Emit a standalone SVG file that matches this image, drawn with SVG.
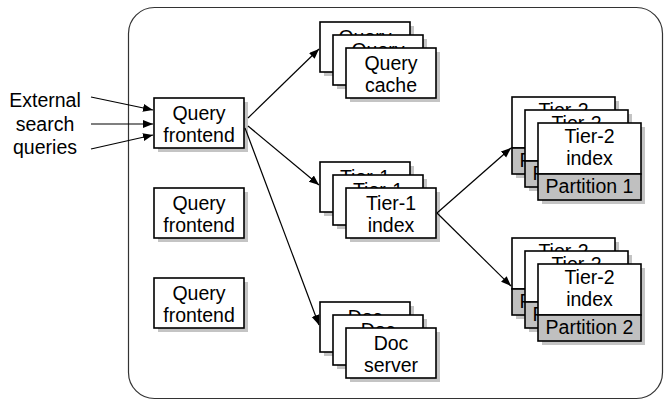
<svg xmlns="http://www.w3.org/2000/svg" width="664" height="401" viewBox="0 0 664 401">
<defs>
<style>
text{font-family:"Liberation Sans",Arial,sans-serif;font-size:19.5px;fill:#000;text-anchor:middle}
.box{fill:#fff;stroke:#000;stroke-width:1.6}
.part{fill:#c0c0c0;stroke:#000;stroke-width:1.6}
.sh{fill:#c4c4c4}
.edge{stroke:#000;stroke-width:1.2;fill:none;marker-end:url(#ah)}
</style>
<marker id="ah" markerUnits="userSpaceOnUse" markerWidth="11" markerHeight="9" refX="10" refY="4" orient="auto">
<path d="M0,0 L10,4 L0,8 z" fill="#000"/>
</marker>
</defs>
<rect x="128.5" y="7.5" width="534" height="391" rx="26" fill="#fff" stroke="#333" stroke-width="1.2"/>
<g id="external">
<text x="45" y="107">External</text>
<text x="45" y="130.5">search</text>
<text x="45" y="154">queries</text>
</g>
<g id="frontend1">
<rect class="sh" x="158" y="102" width="90" height="50"/>
<rect class="box" x="154" y="98" width="90" height="50"/>
<text x="199" y="119.5">Query</text><text x="199" y="142">frontend</text>
</g>
<g id="frontend2">
<rect class="sh" x="158" y="192" width="90" height="50"/>
<rect class="box" x="154" y="188" width="90" height="50"/>
<text x="199" y="209.5">Query</text><text x="199" y="232">frontend</text>
</g>
<g id="frontend3">
<rect class="sh" x="158" y="282" width="90" height="50"/>
<rect class="box" x="154" y="278" width="90" height="50"/>
<text x="199" y="299.5">Query</text><text x="199" y="322">frontend</text>
</g>
<g id="querycache">
<rect class="sh" x="324" y="26" width="90" height="50"/>
<rect class="box" x="320" y="22" width="90" height="50"/>
<text x="365" y="43.5">Query</text>
<rect class="sh" x="337" y="39" width="90" height="50"/>
<rect class="box" x="333" y="35" width="90" height="50"/>
<text x="378" y="56.5">Query</text>
<rect class="sh" x="350" y="52" width="90" height="50"/>
<rect class="box" x="346" y="48" width="90" height="50"/>
<text x="391" y="69.5">Query</text><text x="391" y="92">cache</text>
</g>
<g id="tier1">
<rect class="sh" x="324" y="166" width="90" height="50"/>
<rect class="box" x="320" y="162" width="90" height="50"/>
<text x="365" y="183.5">Tier-1</text>
<rect class="sh" x="337" y="179" width="90" height="50"/>
<rect class="box" x="333" y="175" width="90" height="50"/>
<text x="378" y="196.5">Tier-1</text>
<rect class="sh" x="350" y="192" width="90" height="50"/>
<rect class="box" x="346" y="188" width="90" height="50"/>
<text x="391" y="209.5">Tier-1</text><text x="391" y="232">index</text>
</g>
<g id="docserver">
<rect class="sh" x="324" y="306" width="90" height="50"/>
<rect class="box" x="320" y="302" width="90" height="50"/>
<text x="365" y="323.5">Doc</text>
<rect class="sh" x="337" y="319" width="90" height="50"/>
<rect class="box" x="333" y="315" width="90" height="50"/>
<text x="378" y="336.5">Doc</text>
<rect class="sh" x="350" y="332" width="90" height="50"/>
<rect class="box" x="346" y="328" width="90" height="50"/>
<text x="391" y="349.5">Doc</text><text x="391" y="372">server</text>
</g>
<g id="partition1">
<rect class="sh" x="516" y="101" width="103" height="77"/>
<rect class="box" x="512" y="97" width="103" height="51"/>
<rect class="part" x="512" y="148" width="103" height="26"/>
<text x="563.5" y="117">Tier-2</text><text x="563.5" y="167">Partition 1</text>
<rect class="sh" x="529" y="114" width="103" height="77"/>
<rect class="box" x="525" y="110" width="103" height="51"/>
<rect class="part" x="525" y="161" width="103" height="26"/>
<text x="576.5" y="130">Tier-2</text><text x="576.5" y="180">Partition 1</text>
<rect class="sh" x="542" y="127" width="103" height="77"/>
<rect class="box" x="538" y="123" width="103" height="51"/>
<rect class="part" x="538" y="174" width="103" height="26"/>
<text x="589.5" y="143">Tier-2</text><text x="589.5" y="165">index</text><text x="589.5" y="193">Partition 1</text>
</g>
<g id="partition2">
<rect class="sh" x="516" y="242" width="103" height="77"/>
<rect class="box" x="512" y="238" width="103" height="51"/>
<rect class="part" x="512" y="289" width="103" height="26"/>
<text x="563.5" y="258">Tier-2</text><text x="563.5" y="308">Partition 2</text>
<rect class="sh" x="529" y="255" width="103" height="77"/>
<rect class="box" x="525" y="251" width="103" height="51"/>
<rect class="part" x="525" y="302" width="103" height="26"/>
<text x="576.5" y="271">Tier-2</text><text x="576.5" y="321">Partition 2</text>
<rect class="sh" x="542" y="268" width="103" height="77"/>
<rect class="box" x="538" y="264" width="103" height="51"/>
<rect class="part" x="538" y="315" width="103" height="26"/>
<text x="589.5" y="284">Tier-2</text><text x="589.5" y="306">index</text><text x="589.5" y="334">Partition 2</text>
</g>
<g id="connectors">
<line class="edge" x1="91" y1="97" x2="153" y2="110"/>
<line class="edge" x1="91" y1="124" x2="153" y2="124"/>
<line class="edge" x1="91" y1="149" x2="153" y2="135"/>
<line class="edge" x1="248" y1="118" x2="319" y2="49"/>
<line class="edge" x1="248" y1="126" x2="319" y2="185"/>
<line class="edge" x1="245" y1="128" x2="319" y2="325"/>
<line class="edge" x1="437" y1="213" x2="511" y2="148"/>
<line class="edge" x1="437" y1="213" x2="511" y2="286"/>
</g>
</svg>
